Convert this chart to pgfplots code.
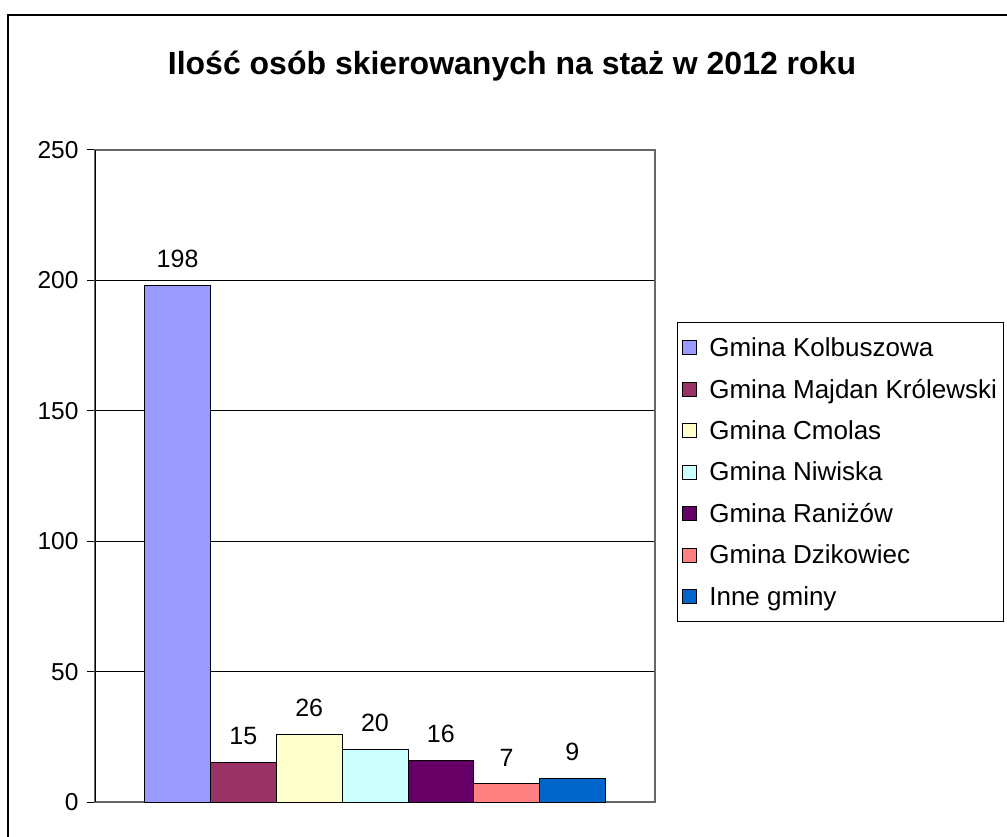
\documentclass[border=0pt]{standalone}
\usepackage{pgfplots}
\pgfplotsset{compat=1.18}
\usepackage{fontspec}
\setmainfont{Liberation Sans}
\definecolor{c1}{HTML}{9999FF}
\definecolor{c2}{HTML}{993366}
\definecolor{c3}{HTML}{FFFFCC}
\definecolor{c4}{HTML}{CCFFFF}
\definecolor{c5}{HTML}{660066}
\definecolor{c6}{HTML}{FF8080}
\definecolor{c7}{HTML}{0066CC}
\pgfplotsset{
  mybar/.style={fill=#1, draw=black, line width=0.8pt,
    legend image code/.code={\draw[##1,draw=black,line width=1pt] (0pt,-7pt) rectangle (14pt,7pt);}},
}
\begin{document}
\begin{tikzpicture}[x=1pt,y=1pt]
\useasboundingbox (0,0) rectangle (1007,836);
\draw[line width=2pt] (8,-10) -- (8,821) -- (1030,821);
\node[font=\bfseries\fontsize{32}{38}\selectfont, anchor=base] at (512,761) {Ilość osób skierowanych na staż w 2012 roku};
\begin{axis}[
  at={(95pt,34pt)}, anchor=south west, scale only axis,
  width=560pt, height=652pt,
  ymin=0, ymax=250, ytick={0,50,...,250},
  xmin=-1, xmax=1, xtick=\empty,
  ybar=0pt, bar width=65.8pt,
  ymajorgrids, grid style={black, line width=1pt},
  axis line style={draw=gray!80!black, line width=1.2pt},
  ytick pos=left, tick align=outside, major tick length=8pt,
  tick style={black, line width=1pt},
  yticklabel style={font=\fontsize{24.5}{28}\selectfont, xshift=-5pt},
  /pgf/number format/assume math mode=true,
  nodes near coords,
  every node near coord/.append style={font=\fontsize{25}{29}\selectfont, black, yshift=14pt},
  legend style={at={(1.039,0.736)}, anchor=north west, draw=black, line width=1pt,
    font=\fontsize{26}{30}\selectfont, row sep=17pt, column sep=10pt,
    inner xsep=5pt, inner ysep=13pt},
  legend cell align=left,
]
\addplot[mybar=c1] coordinates {(0,198)};
\addplot[mybar=c2] coordinates {(0,15)};
\addplot[mybar=c3] coordinates {(0,26)};
\addplot[mybar=c4] coordinates {(0,20)};
\addplot[mybar=c5] coordinates {(0,16)};
\addplot[mybar=c6] coordinates {(0,7)};
\addplot[mybar=c7] coordinates {(0,9)};
\legend{Gmina Kolbuszowa, Gmina Majdan Królewski, Gmina Cmolas, Gmina Niwiska, Gmina Raniżów, Gmina Dzikowiec, Inne gminy}
\draw[black, line width=1.2pt] (rel axis cs:0,0) -- (rel axis cs:0,1);
\end{axis}
\end{tikzpicture}
\end{document}
